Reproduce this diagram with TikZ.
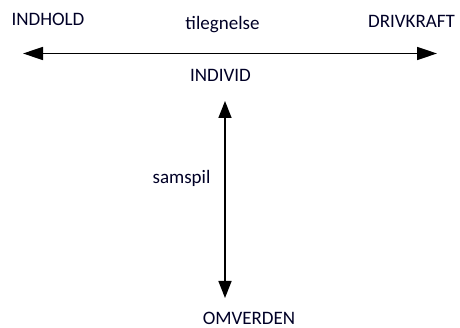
\documentclass[tikz,border=0pt]{standalone}
\usepackage{fontspec}
\setmainfont{Carlito}
\usetikzlibrary{arrows.meta}
\begin{document}
\begin{tikzpicture}[x=1pt,y=-1pt,
  lbl/.style={inner sep=0pt, font=\fontsize{19}{23}\selectfont, text=black!85!blue},
  conn/.style={line width=1.5pt, {Triangle[length=20pt,width=13pt]}-{Triangle[length=20pt,width=13pt]}},
  vconn/.style={line width=1.5pt, {Triangle[length=17pt,width=13pt]}-{Triangle[length=17pt,width=13pt]}}]
\useasboundingbox (0,0) rectangle (460,328);
\coordinate (L) at (23,53.5);
\coordinate (R) at (437,53.5);
\coordinate (T) at (225,101);
\coordinate (B) at (225,298);
\node[lbl, anchor=base] (indhold) at (48,26) {INDHOLD};
\node[lbl, anchor=base] (tileg) at (222.5,29.5) {tilegnelse};
\node[lbl, anchor=base] (drivkraft) at (411.5,28) {DRIVKRAFT};
\node[lbl, anchor=base] (individ) at (220.5,82) {INDIVID};
\node[lbl, anchor=base] (samspil) at (181.5,183.5) {samspil};
\node[lbl, anchor=base] (omverden) at (249,324) {OMVERDEN};
\draw[conn] (L) -- (R);
\draw[vconn] (T) -- (B);
\end{tikzpicture}
\end{document}
